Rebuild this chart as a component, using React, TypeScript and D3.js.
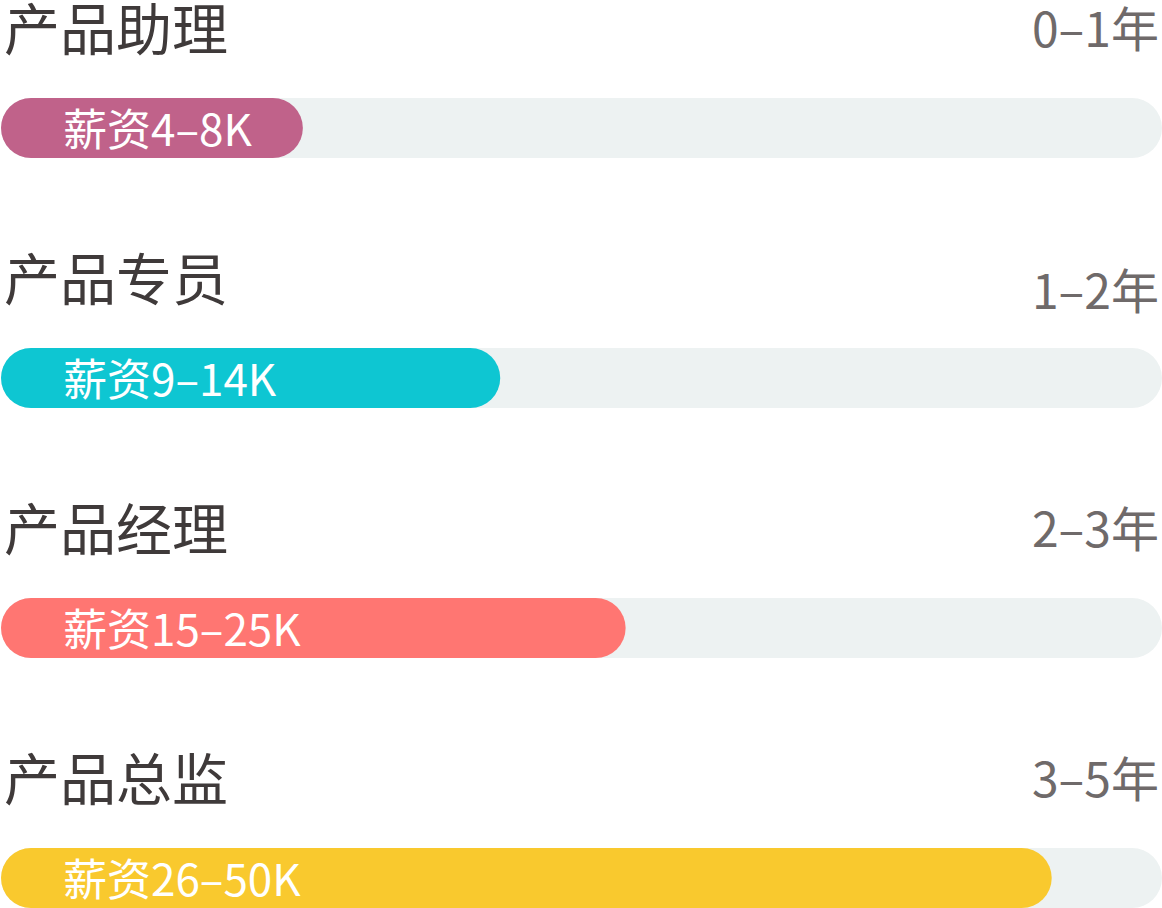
import React, { useRef, useEffect } from 'react';
import * as d3 from 'd3';

const roles = ['产品助理', '产品专员', '产品经理', '产品总监'];
const years = ['0–1年', '1–2年', '2–3年', '3–5年'];
const salaries = ['薪资4–8K', '薪资9–14K', '薪资15–25K', '薪资26–50K'];
// fill of each bar, percent of the track
const progress = [26, 43, 53.8, 90.5];
const colors = ['#C0628A', '#0EC6D2', '#FF7672', '#F9C92E'];

const width = 1162;
const height = 908;
const font = '"Noto Sans CJK SC", "Noto Sans", sans-serif';

const App: React.FC = () => {
  const svgRef = useRef<SVGSVGElement | null>(null);

  useEffect(() => {
    const svg = d3.select(svgRef.current);
    svg.selectAll('*').remove();

    const rowScale = d3.scaleBand<string>()
      .domain(roles)
      .range([0, 1000]);

    const xScale = d3.scaleLinear()
      .domain([0, 100])
      .range([1, width]);

    const barH = 60;
    const barTop = 98;

    const rows = svg.selectAll('g.row')
      .data(roles)
      .enter().append('g')
        .attr('class', 'row')
        .attr('transform', d => `translate(0,${rowScale(d)})`);

    // titles
    rows.append('text')
      .attr('x', 4)
      .attr('y', 25)
      .attr('dominant-baseline', 'central')
      .attr('font-family', font)
      .attr('font-size', 56)
      .attr('fill', '#3F3A3A')
      .text(d => d);

    // years (second row sits a little lower in the original)
    rows.append('text')
      .attr('x', width - 3)
      .attr('y', (d, i) => (i === 1 ? 38 : 26))
      .attr('text-anchor', 'end')
      .attr('dominant-baseline', 'central')
      .attr('font-family', font)
      .attr('font-size', 48)
      .attr('fill', '#6F6A6A')
      .text((d, i) => years[i]);

    // track
    rows.append('rect')
      .attr('x', xScale(0))
      .attr('y', barTop)
      .attr('width', xScale(100) - xScale(0))
      .attr('height', barH)
      .attr('rx', barH / 2)
      .attr('fill', '#EDF2F2');

    // fill
    rows.append('rect')
      .attr('x', xScale(0))
      .attr('y', barTop)
      .attr('width', (d, i) => xScale(progress[i]) - xScale(0))
      .attr('height', barH)
      .attr('rx', barH / 2)
      .attr('fill', (d, i) => colors[i]);

    // salary labels
    rows.append('text')
      .attr('x', 63)
      .attr('y', barTop + barH / 2 - 1)
      .attr('dominant-baseline', 'central')
      .attr('font-family', font)
      .attr('font-size', 44)
      .attr('fill', '#FFFFFF')
      .text((d, i) => salaries[i]);
  }, []);

  return (
    <svg
      ref={svgRef}
      width={width}
      height={height}
      style={{ position: 'absolute', left: 0, top: 0, background: '#fff' }}
    />
  );
};

export default App;
